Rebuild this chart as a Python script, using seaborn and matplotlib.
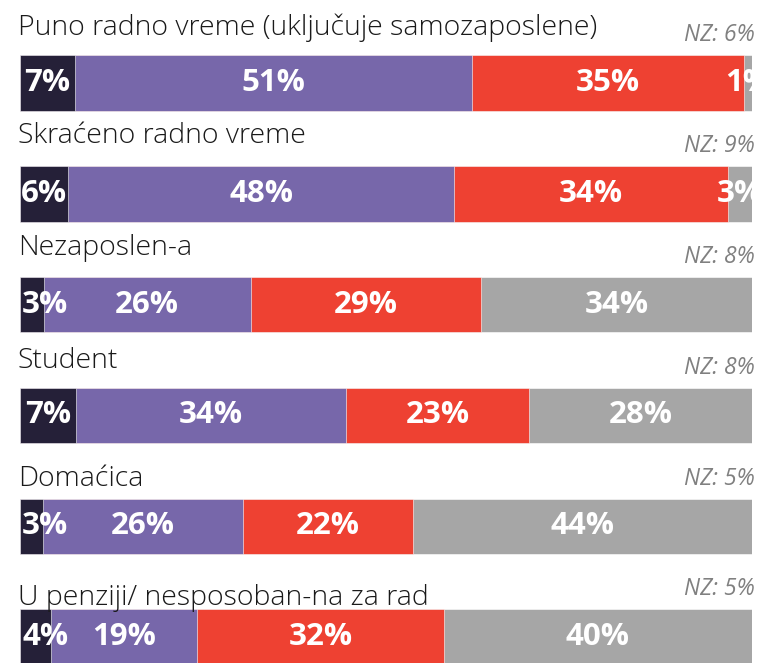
import matplotlib
matplotlib.use("Agg")
import matplotlib.pyplot as plt
import seaborn as sns
import pandas as pd
import numpy as np

# data
categories = ["Puno radno vreme (uključuje samozaposlene)", "Skraćeno radno vreme",
              "Nezaposlen-a", "Student", "Domaćica", "U penziji/ nesposoban-na za rad"]
seg1 = [7, 6, 3, 7, 3, 4]
seg2 = [51, 48, 26, 34, 26, 19]
seg3 = [35, 34, 29, 23, 22, 32]
seg4 = [1, 3, 34, 28, 44, 40]
nz = [6, 9, 8, 8, 5, 5]

colors = ["#252038", "#7767aa", "#ee4132", "#a6a6a6"]

sns.set_theme(style="white")
plt.rcParams['font.family'] = ['Open Sans', 'DejaVu Sans']

W, H = 759, 663
fig = plt.figure(figsize=(W / 100, H / 100), dpi=100)
ax = fig.add_axes([20 / W, 0, 732 / W, 1])

df = pd.DataFrame({"cat": categories, "s1": seg1, "s2": seg2, "s3": seg3, "s4": seg4})
tot = df[["s1", "s2", "s3", "s4"]].sum(axis=1)
shares = df[["s1", "s2", "s3", "s4"]].div(tot, axis=0) * 100
cum = shares.cumsum(axis=1)

# stacked look: draw cumulative totals, biggest first
for i in range(3, -1, -1):
    sns.barplot(x=cum.iloc[:, i], y=df["cat"], orient="h", color=colors[i],
                width=0.5, saturation=1, ax=ax, edgecolor="white", linewidth=0.4)

# row spacing in px -> category units
step = 110.8
ax.set_xlim(0, 100)
ax.set_ylim((H - 83) / step, -83 / step)
ax.axis("off")

label_off = [20, 23, 22, 20, 12, 4]  # px gap between label baseline and bar top
half = 0.25
for r in range(len(categories)):
    top = r - half
    ax.text(-0.3, top - label_off[r] / step, categories[r], fontsize=20.5,
            fontweight="light", color="#1a1a1a", ha="left", va="baseline", clip_on=False)
    ax.text(100.4, top - 14 / step, f"NZ: {nz[r]}%", fontsize=16.5, style="italic",
            color="#808080", ha="right", va="baseline", clip_on=False)
    vals = [seg1[r], seg2[r], seg3[r], seg4[r]]
    left = 0
    for j in range(4):
        w = shares.iloc[r, j]
        if j == 0 and vals[j] < 5:
            x, ha = left + 0.3, "left"
        else:
            x, ha = left + w / 2, "center"
        ax.text(x, r, f"{vals[j]}%", fontsize=22.5, fontweight="bold", color="white",
                ha=ha, va="center", clip_on=True)
        left += w

fig.savefig("out.png", dpi=100)
